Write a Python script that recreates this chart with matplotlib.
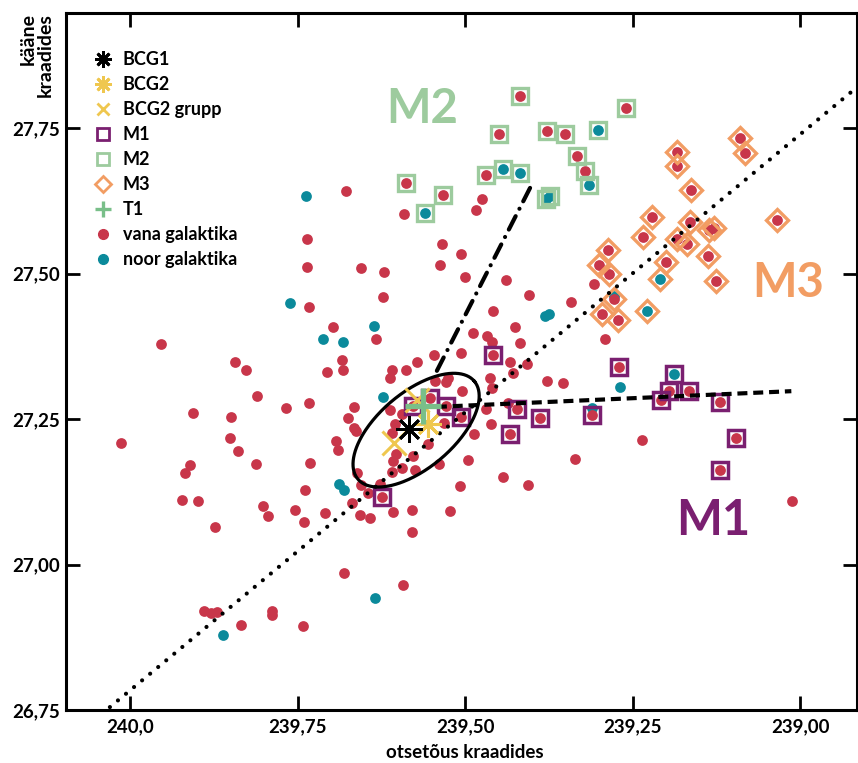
import numpy as np
from matplotlib import pyplot as plt
from matplotlib.lines import Line2D

plt.rcParams['font.family'] = ['Lato', 'DejaVu Sans']
plt.rcParams['font.weight'] = 'bold'

RED = '#c8364a'
TEAL = '#0b8a9b'
PURPLE = '#7a1f70'
LGREEN = '#9dcb9e'
ORANGE = '#f29d63'
GOLD = '#efc74f'
TGREEN = '#79bf89'

# field galaxies outside the subgroups
old_ra = [239.678, 239.591, 239.736, 239.736, 239.655, 239.621, 239.622, 239.733, 239.697, 239.633,
          239.954, 239.843, 239.827, 239.706, 239.684, 239.682, 239.810, 239.906, 239.767, 239.733,
          239.849, 240.013, 239.851, 239.839, 239.910, 239.918, 239.812, 239.731, 239.693, 239.690,
          239.922, 239.898, 239.739, 239.801, 239.794, 239.754, 239.740, 239.709, 239.873, 239.890,
          239.879, 239.870, 239.788, 239.788, 239.834, 239.742, 239.681, 239.593, 239.669,
          239.572, 239.588, 239.609, 239.612, 239.546, 239.506, 239.488, 239.467, 239.460,
          239.666, 239.675, 239.666, 239.663, 239.612, 239.594, 239.604, 239.609, 239.603, 239.607,
          239.609, 239.594, 239.578, 239.575, 239.555, 239.531, 239.505, 239.545, 239.528, 239.525,
          239.539, 239.496, 239.487, 239.463, 239.461, 239.469, 239.507, 239.522, 239.579, 239.607,
          239.661, 239.655, 239.645, 239.627, 239.657, 239.642, 239.579, 239.443, 239.406,
          239.458, 239.342, 239.425, 239.418, 239.433, 239.408, 239.428, 239.460, 239.378, 239.354,
          239.291, 239.236, 239.336, 239.012, 239.439, 239.405, 239.534, 239.506, 239.537, 239.500,
          239.475, 239.484, 239.308, 239.436]
old_dec = [27.642, 27.602, 27.559, 27.511, 27.510, 27.503, 27.460, 27.443, 27.408, 27.388,
           27.379, 27.348, 27.334, 27.331, 27.352, 27.334, 27.290, 27.260, 27.269, 27.278,
           27.254, 27.209, 27.218, 27.195, 27.171, 27.157, 27.173, 27.175, 27.212, 27.197,
           27.111, 27.109, 27.128, 27.101, 27.084, 27.094, 27.073, 27.089, 27.065, 26.920,
           26.917, 26.919, 26.920, 26.913, 26.896, 26.895, 26.986, 26.965, 27.106,
           27.348, 27.334, 27.334, 27.321, 27.360, 27.364, 27.398, 27.393, 27.382,
           27.271, 27.252, 27.235, 27.230, 27.266, 27.259, 27.242, 27.226, 27.190, 27.178,
           27.159, 27.166, 27.187, 27.163, 27.207, 27.243, 27.298, 27.315, 27.314, 27.321,
           27.173, 27.180, 27.224, 27.321, 27.242, 27.267, 27.135, 27.092, 27.094, 27.090,
           27.157, 27.137, 27.123, 27.139, 27.085, 27.080, 27.056, 27.151, 27.137,
           27.436, 27.451, 27.408, 27.381, 27.348, 27.345, 27.329, 27.303, 27.315, 27.312,
           27.388, 27.214, 27.181, 27.109, 27.489, 27.463, 27.551, 27.534, 27.515, 27.494,
           27.628, 27.609, 27.482, 27.278]

young_ra = [239.737, 239.761, 239.712, 239.682, 239.636, 239.622, 239.688, 239.681, 239.634,
            239.861, 239.381, 239.375, 239.269, 239.310, 239.278]
young_dec = [27.633, 27.449, 27.388, 27.382, 27.410, 27.288, 27.139, 27.128, 26.943,
             26.879, 27.427, 27.431, 27.305, 27.269, 27.461]

# subgroup members: 'v' = vana (old), 'n' = noor (young)
m1_ra = [239.458, 239.270, 239.310, 239.422, 239.388, 239.433, 239.506, 239.528, 239.552,
         239.578, 239.624, 239.188, 239.196, 239.166, 239.208, 239.119, 239.096, 239.119]
m1_dec = [27.360, 27.340, 27.257, 27.267, 27.252, 27.224, 27.254, 27.272, 27.286,
          27.272, 27.116, 27.327, 27.298, 27.298, 27.283, 27.279, 27.218, 27.163]
m1_kind = ['v', 'v', 'v', 'v', 'v', 'v', 'v', 'v', 'v',
           'v', 'v', 'n', 'v', 'v', 'v', 'v', 'v', 'v']

m2_ra = [239.418, 239.260, 239.449, 239.378, 239.351, 239.302, 239.333, 239.321, 239.315,
         239.469, 239.443, 239.418, 239.379, 239.373, 239.588, 239.533, 239.560]
m2_dec = [27.805, 27.784, 27.740, 27.745, 27.740, 27.747, 27.702, 27.676, 27.652,
          27.669, 27.680, 27.673, 27.628, 27.633, 27.656, 27.635, 27.604]
m2_kind = ['v', 'v', 'v', 'v', 'v', 'n', 'v', 'v', 'n',
           'v', 'n', 'n', 'n', 'n', 'v', 'v', 'n']

m3_ra = [239.090, 239.082, 239.184, 239.184, 239.163, 239.034, 239.221, 239.234, 239.164,
         239.136, 239.128, 239.184, 239.169, 239.137, 239.287, 239.300, 239.285, 239.200,
         239.209, 239.125, 239.278, 239.296, 239.272, 239.228]
m3_dec = [27.733, 27.707, 27.709, 27.685, 27.644, 27.592, 27.597, 27.563, 27.589,
          27.575, 27.578, 27.559, 27.551, 27.530, 27.540, 27.515, 27.499, 27.520,
          27.491, 27.487, 27.456, 27.431, 27.420, 27.436]
m3_kind = ['v', 'v', 'v', 'v', 'v', 'v', 'v', 'v', 'v',
           'v', 'v', 'v', 'v', 'v', 'v', 'v', 'v', 'v',
           'n', 'v', 'v', 'v', 'v', 'n']

bcg1 = (239.584, 27.233)
bcg2 = (239.555, 27.242)
bcg2_group_ra = [239.606, 239.572]
bcg2_group_dec = [27.209, 27.283]
t1 = (239.563, 27.273)

# direction lines from the cluster core towards the subgroups
dotted_ra, dotted_dec = [240.030, 238.905], [26.755, 27.830]
dashed_ra, dashed_dec = [239.542, 239.013], [27.271, 27.298]
dashdot_ra, dashdot_dec = [239.542, 239.400], [27.333, 27.654]

# core ellipse: centre and two conjugate semi-axes (deg)
ell_c = (239.573, 27.231)
ell_u = (-0.087, 0.084)
ell_v = (-0.036, -0.050)

fig = plt.figure(figsize=(8.58, 7.63), dpi=100)
ax = fig.add_axes([66 / 858, 53 / 763, 791 / 858, 697 / 763])

groups = [(m1_ra, m1_dec, m1_kind), (m2_ra, m2_dec, m2_kind), (m3_ra, m3_dec, m3_kind)]
all_young_ra = list(young_ra)
all_young_dec = list(young_dec)
all_old_ra = list(old_ra)
all_old_dec = list(old_dec)
for gra, gdec, gkind in groups:
    for r, d, k in zip(gra, gdec, gkind):
        if k == 'n':
            all_young_ra.append(r)
            all_young_dec.append(d)
        else:
            all_old_ra.append(r)
            all_old_dec.append(d)

ax.scatter(all_young_ra, all_young_dec, s=60, color=TEAL, linewidths=0, zorder=2)
ax.scatter(all_old_ra, all_old_dec, s=60, color=RED, linewidths=0, zorder=3)

ax.plot(m1_ra, m1_dec, 's', ms=11, mfc='none', mec=PURPLE, mew=2.5, zorder=4)
ax.plot(m2_ra, m2_dec, 's', ms=11.5, mfc='none', mec=LGREEN, mew=2.4, zorder=4)
ax.plot(m3_ra, m3_dec, 'D', ms=11, mfc='none', mec=ORANGE, mew=2.4, zorder=4)

ax.plot(dotted_ra, dotted_dec, color='black', lw=3, linestyle=(0, (0.01, 2.5)),
        dash_capstyle='round', zorder=5)
ax.plot(dashed_ra, dashed_dec, color='black', lw=3, linestyle=(0, (2.4, 1.4)), zorder=5)
ax.plot(dashdot_ra, dashdot_dec, color='black', lw=3, linestyle=(0, (3.6, 2.0, 0.01, 2.0)),
        dash_capstyle='round', zorder=5)

t = np.linspace(0, 2 * np.pi, 300)
ax.plot(ell_c[0] + ell_u[0] * np.cos(t) + ell_v[0] * np.sin(t),
        ell_c[1] + ell_u[1] * np.cos(t) + ell_v[1] * np.sin(t),
        color='black', lw=2.3, zorder=5)

ax.plot(bcg2_group_ra, bcg2_group_dec, 'x', ms=17, mec=GOLD, mew=2.2, zorder=6)
ax.plot(*bcg2, marker=(8, 2, 0), ms=19, mec=GOLD, mew=2.2, zorder=6)
ax.plot(*bcg1, marker=(8, 2, 0), ms=19, mec='black', mew=2.0, zorder=7)
ax.plot(*t1, '+', ms=26, mec=TGREEN, mew=3.8, zorder=8)

ax.text(239.564, 27.783, 'M2', color=LGREEN, fontsize=34, ha='center', va='center')
ax.text(239.017, 27.484, 'M3', color=ORANGE, fontsize=34, ha='center', va='center')
ax.text(239.130, 27.075, 'M1', color=PURPLE, fontsize=35, ha='center', va='center')

handles = [
    Line2D([], [], ls='none', marker=(8, 2, 0), ms=12, mec='black', mew=2),
    Line2D([], [], ls='none', marker=(8, 2, 0), ms=12, mec=GOLD, mew=2),
    Line2D([], [], ls='none', marker='x', ms=9, mec=GOLD, mew=2),
    Line2D([], [], ls='none', marker='s', ms=8, mfc='none', mec=PURPLE, mew=2),
    Line2D([], [], ls='none', marker='s', ms=8, mfc='none', mec=LGREEN, mew=2),
    Line2D([], [], ls='none', marker='D', ms=8, mfc='none', mec=ORANGE, mew=2),
    Line2D([], [], ls='none', marker='+', ms=12, mec=TGREEN, mew=2.4),
    Line2D([], [], ls='none', marker='o', ms=7, mfc=RED, mec=RED),
    Line2D([], [], ls='none', marker='o', ms=7, mfc=TEAL, mec=TEAL),
]
labels = ['BCG1', 'BCG2', 'BCG2 grupp', 'M1', 'M2', 'M3', 'T1',
          'vana galaktika', 'noor galaktika']
ax.legend(handles, labels, loc='upper left', bbox_to_anchor=(0.035, 0.945),
          frameon=False, fontsize=13, handlelength=1.0, handletextpad=0.6,
          labelspacing=0.44, borderpad=0, borderaxespad=0)

ax.set_xlim(240.0955, 238.915)
ax.set_ylim(26.75, 27.948)
ax.set_xticks([240.0, 239.75, 239.5, 239.25, 239.0])
ax.set_xticklabels(['240,0', '239,75', '239,50', '239,25', '239,00'])
ax.set_yticks([26.75, 27.0, 27.25, 27.5, 27.75])
ax.set_yticklabels(['26,75', '27,00', '27,25', '27,50', '27,75'])
ax.tick_params(direction='in', top=True, right=True, length=10, width=2,
               labelsize=13.5, pad=6)
ax.tick_params(axis='y', pad=4)
for sp in ax.spines.values():
    sp.set_linewidth(2.2)

fig.text(465 / 858, 1 - 752 / 763, 'otsetõus kraadides', ha='center', va='center',
         fontsize=13.5)
fig.text(37 / 858, 1 - 55 / 763, 'kääne\nkraadides', rotation=90, ha='center',
         va='center', multialignment='right', fontsize=14, linespacing=1.0)

fig.savefig('out.png', dpi=100)
